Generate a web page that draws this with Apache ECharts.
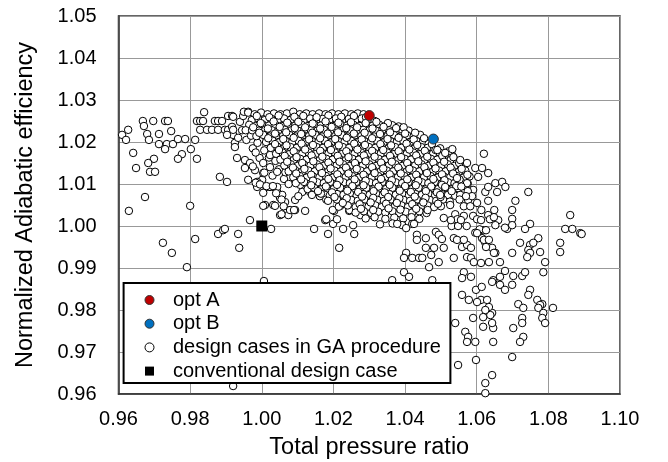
<!DOCTYPE html>
<html><head><meta charset="utf-8">
<script src="https://cdn.jsdelivr.net/npm/echarts@6/dist/echarts.min.js"></script>
<style>html,body{margin:0;padding:0;background:#fff}#c{width:668px;height:462px}</style>
</head><body><div id="c"></div>
<script>
// ---- tick labels ----
const xTickLabels = ['0.96','0.98','1.00','1.02','1.04','1.06','1.08','1.10'];
const yTickLabels = ['0.96','0.97','0.98','0.99','1.00','1.01','1.02','1.03','1.04','1.05'];

// ---- highlighted cases ----
const optA = [[1.0300, 1.0263]];
const optB = [[1.0479, 1.0207]];
const conventional = [[1.0000, 1.0000]];

// ---- design cases in GA procedure ----
const designLeft = [
[0.9610,1.0217],[0.9627,1.0229],[0.9621,1.0205],[0.9641,1.0174],[0.9649,1.0138],[0.9629,1.0036],
[0.9668,1.0250],[0.9697,1.0250],[0.9730,1.0250],[0.9738,1.0250],[0.9671,1.0238],[0.9680,1.0219],[0.9685,1.0205],[0.9713,1.0219],[0.9747,1.0226],
[0.9713,1.0195],[0.9735,1.0195],[0.9752,1.0195],[0.9766,1.0207],[0.9786,1.0207],[0.9814,1.0205],
[0.9730,1.0183],[0.9802,1.0183],[0.9777,1.0171],[0.9766,1.0160],[0.9819,1.0160],[0.9699,1.0160],[0.9683,1.0150],[0.9688,1.0129],[0.9702,1.0129],
[0.9839,1.0271],[0.9819,1.0250],[0.9828,1.0250],[0.9836,1.0250],[0.9828,1.0229],[0.9847,1.0229],[0.9861,1.0229],[0.9869,1.0250],[0.9878,1.0250],[0.9889,1.0250],[0.9906,1.0262],[0.9917,1.0262],[0.9878,1.0229],[0.9897,1.0229],[0.9906,1.0229],[0.9917,1.0236],[0.9920,1.0217],[0.9925,1.0198],[0.9903,1.0217],
[0.9883,1.0117],[0.9903,1.0105],[0.9674,1.0069],
[0.9800,1.0048],[0.9724,0.9960],[0.9749,0.9936],[0.9814,0.9969],[0.9791,0.9902],[0.9878,0.9981],[0.9892,0.9990],[0.9897,0.9993],[0.9934,0.9981],[0.9937,0.9948],[0.9920,0.9619]
];
const designNearOne = [
[0.9920,1.0260],[0.9939,1.0248],[0.9920,1.0229],[0.9934,1.0210],[0.9925,1.0188],[0.9931,1.0162],[0.9953,1.0157],[0.9967,1.0150],[0.9953,1.0138],[0.9981,1.0133],[0.9962,1.0110],[1.0001,1.0110],[0.9987,1.0093],[1.0015,1.0093],[1.0004,1.0079],[1.0032,1.0093],[1.0009,1.0050],[1.0043,1.0081],[1.0051,1.0067],[0.9948,1.0262],[0.9950,1.0272],[0.9962,1.0272],[0.9975,1.0185],[0.9988,1.0198],[0.9994,1.0162],[0.9975,1.0142],[0.9945,1.0228],[0.9957,1.0205],[0.9970,1.0215],[0.9983,1.0175],[1.0007,1.0180],[1.0020,1.0163],[1.0023,1.0140],[1.0038,1.0155],[1.0030,1.0120],[1.0048,1.0135],[1.0062,1.0112],[1.0075,1.0100],[1.0066,1.0128],
[1.0004,1.0126],[1.0004,1.0150],[1.0023,1.0169],[0.9987,1.0105],[1.0023,1.0093],[1.0043,1.0093],[1.0043,1.0129],[1.0057,1.0074],[1.0065,1.0057],[1.0032,1.0050],[1.0093,1.0062],[1.0093,1.0129],[1.0107,1.0098],[1.0127,1.0098],[1.0135,1.0081],[1.0113,1.0081],[1.0163,1.0074],[1.0149,1.0114],
[1.0004,1.0048],[1.0037,1.0048],[1.0051,1.0026],[1.0071,1.0038],[1.0074,1.0026],[1.0093,1.0038],[1.0121,1.0036],[0.9967,1.0014],[1.0026,0.9993],[1.0146,0.9993],[1.0177,1.0014],[1.0185,0.9981],[1.0199,1.0005],[1.0202,1.0036],[1.0219,1.0048],[1.0244,1.0036],[1.0227,0.9993],[1.0255,1.0002],[1.0258,0.9981],[1.0216,0.9948],[1.0275,1.0026],[1.0294,1.0026],[1.0308,1.0026],[1.0322,1.0033],[1.0006,0.9869],
[1.0040,1.0078],[1.0055,1.0063],[1.0061,1.0047],[1.0079,1.0038],[1.0090,1.0038],[1.0055,1.0028],[1.0102,1.0071],[1.0144,1.0083],[1.0162,1.0071],[1.0180,1.0063],[1.0198,1.0038],[1.0210,1.0016],[1.0180,1.0016],[1.0245,1.0038],[1.0221,1.0055],[1.0233,1.0063],
[0.9983,1.0103],[0.9995,1.0099],[1.0007,1.0127],[1.0013,1.0095],[1.0031,1.0095]
];
const designCore = [
[0.9962,1.0270],[0.9980,1.0266],[0.9998,1.0270],[1.0016,1.0266],[1.0034,1.0268],[1.0052,1.0266],[1.0070,1.0268],[1.0088,1.0272],[1.0106,1.0266],[1.0124,1.0268],[1.0142,1.0266],[1.0160,1.0268],[1.0178,1.0266],[1.0196,1.0268],[1.0214,1.0266],[1.0232,1.0268],[1.0250,1.0266],[1.0268,1.0268],[1.0284,1.0266],
[0.9972,1.0252],[0.9990,1.0256],[1.0008,1.0252],[1.0027,1.0255],[1.0045,1.0252],[1.0062,1.0256],[1.0081,1.0253],[1.0098,1.0255],[1.0117,1.0252],[1.0135,1.0256],[1.0152,1.0252],[1.0170,1.0255],[1.0189,1.0253],[1.0207,1.0256],[1.0225,1.0252],[1.0243,1.0255],[1.0261,1.0252],[1.0279,1.0256],[1.0297,1.0253],[1.0315,1.0250],
[0.9965,1.0241],[0.9983,1.0238],[1.0002,1.0242],[1.0020,1.0239],[1.0038,1.0241],[1.0056,1.0238],[1.0074,1.0242],[1.0093,1.0239],[1.0111,1.0241],[1.0129,1.0238],[1.0147,1.0242],[1.0165,1.0239],[1.0183,1.0241],[1.0202,1.0238],[1.0220,1.0242],[1.0238,1.0239],[1.0256,1.0241],[1.0274,1.0238],[1.0292,1.0242],[1.0310,1.0239],[1.0328,1.0241],[1.0346,1.0238],[1.0364,1.0240],[1.0382,1.0237],
[0.9955,1.0228],[0.9973,1.0228],[0.9992,1.0227],[1.0010,1.0229],[1.0028,1.0228],[1.0046,1.0227],[1.0064,1.0229],[1.0083,1.0228],[1.0101,1.0227],[1.0119,1.0229],[1.0137,1.0228],[1.0155,1.0227],[1.0174,1.0229],[1.0192,1.0228],[1.0210,1.0227],[1.0228,1.0229],[1.0246,1.0228],[1.0265,1.0227],[1.0283,1.0229],[1.0301,1.0228],[1.0319,1.0227],[1.0337,1.0229],[1.0355,1.0228],[1.0374,1.0227],[1.0392,1.0229],[1.0410,1.0227],
[0.9985,1.0214],[1.0004,1.0217],[1.0022,1.0213],[1.0041,1.0216],[1.0059,1.0214],[1.0077,1.0217],[1.0095,1.0213],[1.0114,1.0216],[1.0132,1.0214],[1.0150,1.0217],[1.0168,1.0213],[1.0187,1.0216],[1.0205,1.0214],[1.0223,1.0217],[1.0241,1.0213],[1.0260,1.0216],[1.0278,1.0214],[1.0296,1.0217],[1.0314,1.0213],[1.0333,1.0216],[1.0351,1.0214],[1.0369,1.0217],[1.0387,1.0213],[1.0406,1.0216],[1.0424,1.0214],[1.0442,1.0217],
[1.0012,1.0200],[1.0030,1.0203],[1.0048,1.0199],[1.0067,1.0202],[1.0085,1.0200],[1.0103,1.0203],[1.0121,1.0199],[1.0140,1.0202],[1.0158,1.0200],[1.0176,1.0203],[1.0194,1.0199],[1.0213,1.0202],[1.0231,1.0200],[1.0249,1.0203],[1.0267,1.0199],[1.0286,1.0202],[1.0304,1.0200],[1.0322,1.0203],[1.0340,1.0199],[1.0359,1.0202],[1.0377,1.0200],[1.0395,1.0203],[1.0413,1.0199],[1.0432,1.0202],[1.0450,1.0200],[1.0466,1.0196],
[1.0025,1.0186],[1.0043,1.0189],[1.0062,1.0185],[1.0080,1.0188],[1.0098,1.0186],[1.0116,1.0189],[1.0135,1.0185],[1.0153,1.0188],[1.0171,1.0186],[1.0189,1.0189],[1.0208,1.0185],[1.0226,1.0188],[1.0244,1.0186],[1.0262,1.0189],[1.0281,1.0185],[1.0299,1.0188],[1.0317,1.0186],[1.0335,1.0189],[1.0354,1.0185],[1.0372,1.0188],[1.0390,1.0186],[1.0408,1.0189],[1.0427,1.0185],[1.0445,1.0188],[1.0463,1.0186],[1.0481,1.0182],[1.0498,1.0185],
[1.0040,1.0172],[1.0058,1.0175],[1.0077,1.0171],[1.0095,1.0174],[1.0113,1.0172],[1.0131,1.0175],[1.0150,1.0171],[1.0168,1.0174],[1.0186,1.0172],[1.0204,1.0175],[1.0223,1.0171],[1.0241,1.0174],[1.0259,1.0172],[1.0277,1.0175],[1.0296,1.0171],[1.0314,1.0174],[1.0332,1.0172],[1.0350,1.0175],[1.0369,1.0171],[1.0387,1.0174],[1.0405,1.0172],[1.0423,1.0175],[1.0442,1.0171],[1.0460,1.0174],[1.0478,1.0172],[1.0496,1.0175],[1.0514,1.0171],[1.0532,1.0168],
[1.0052,1.0158],[1.0070,1.0161],[1.0089,1.0157],[1.0107,1.0160],[1.0125,1.0158],[1.0143,1.0161],[1.0162,1.0157],[1.0180,1.0160],[1.0198,1.0158],[1.0216,1.0161],[1.0235,1.0157],[1.0253,1.0160],[1.0271,1.0158],[1.0289,1.0161],[1.0308,1.0157],[1.0326,1.0160],[1.0344,1.0158],[1.0362,1.0161],[1.0381,1.0157],[1.0399,1.0160],[1.0417,1.0158],[1.0435,1.0161],[1.0454,1.0157],[1.0472,1.0160],[1.0490,1.0158],[1.0508,1.0161],[1.0527,1.0157],[1.0545,1.0155],
[1.0063,1.0144],[1.0081,1.0147],[1.0100,1.0143],[1.0118,1.0146],[1.0136,1.0144],[1.0154,1.0147],[1.0173,1.0143],[1.0191,1.0146],[1.0209,1.0144],[1.0227,1.0147],[1.0246,1.0143],[1.0264,1.0146],[1.0282,1.0144],[1.0300,1.0147],[1.0319,1.0143],[1.0337,1.0146],[1.0355,1.0144],[1.0373,1.0147],[1.0392,1.0143],[1.0410,1.0146],[1.0428,1.0144],[1.0446,1.0147],[1.0465,1.0143],[1.0483,1.0146],[1.0501,1.0144],[1.0519,1.0147],[1.0538,1.0143],[1.0556,1.0146],
[1.0075,1.0130],[1.0093,1.0133],[1.0112,1.0129],[1.0130,1.0132],[1.0148,1.0130],[1.0166,1.0133],[1.0185,1.0129],[1.0203,1.0132],[1.0221,1.0130],[1.0239,1.0133],[1.0258,1.0129],[1.0276,1.0132],[1.0294,1.0130],[1.0312,1.0133],[1.0331,1.0129],[1.0349,1.0132],[1.0367,1.0130],[1.0385,1.0133],[1.0404,1.0129],[1.0422,1.0132],[1.0440,1.0130],[1.0458,1.0133],[1.0477,1.0129],[1.0495,1.0132],[1.0513,1.0130],[1.0531,1.0133],[1.0550,1.0129],[1.0568,1.0132],
[1.0088,1.0116],[1.0106,1.0119],[1.0125,1.0115],[1.0143,1.0118],[1.0161,1.0116],[1.0179,1.0119],[1.0198,1.0115],[1.0216,1.0118],[1.0234,1.0116],[1.0252,1.0119],[1.0271,1.0115],[1.0289,1.0118],[1.0307,1.0116],[1.0325,1.0119],[1.0344,1.0115],[1.0362,1.0118],[1.0380,1.0116],[1.0398,1.0119],[1.0417,1.0115],[1.0435,1.0118],[1.0453,1.0116],[1.0471,1.0119],[1.0490,1.0115],[1.0508,1.0118],[1.0526,1.0116],[1.0544,1.0119],[1.0563,1.0115],[1.0580,1.0118],
[1.0095,1.0102],[1.0118,1.0105],[1.0137,1.0101],[1.0155,1.0104],[1.0173,1.0102],[1.0191,1.0105],[1.0210,1.0101],[1.0228,1.0104],[1.0246,1.0102],[1.0264,1.0105],[1.0283,1.0101],[1.0301,1.0104],[1.0319,1.0102],[1.0337,1.0105],[1.0356,1.0101],[1.0374,1.0104],[1.0392,1.0102],[1.0410,1.0105],[1.0429,1.0101],[1.0447,1.0104],[1.0465,1.0102],[1.0483,1.0105],[1.0502,1.0101],[1.0520,1.0104],[1.0538,1.0102],[1.0556,1.0105],[1.0575,1.0101],
[1.0128,1.0088],[1.0146,1.0091],[1.0165,1.0087],[1.0183,1.0090],[1.0201,1.0088],[1.0219,1.0091],[1.0238,1.0087],[1.0256,1.0090],[1.0274,1.0088],[1.0292,1.0091],[1.0311,1.0087],[1.0329,1.0090],[1.0347,1.0088],[1.0365,1.0091],[1.0384,1.0087],[1.0402,1.0090],[1.0420,1.0088],[1.0438,1.0091],[1.0457,1.0087],[1.0475,1.0090],[1.0493,1.0088],[1.0511,1.0091],[1.0530,1.0087],[1.0548,1.0090],
[1.0140,1.0074],[1.0165,1.0077],[1.0190,1.0073],[1.0210,1.0076],[1.0228,1.0074],[1.0246,1.0077],[1.0265,1.0073],[1.0283,1.0076],[1.0301,1.0074],[1.0319,1.0077],[1.0338,1.0073],[1.0356,1.0076],[1.0374,1.0074],[1.0392,1.0077],[1.0411,1.0073],[1.0429,1.0076],[1.0447,1.0074],[1.0465,1.0077],[1.0484,1.0073],[1.0502,1.0076],[1.0520,1.0074],[1.0540,1.0072],
[1.0185,1.0060],[1.0210,1.0063],[1.0232,1.0059],[1.0250,1.0062],[1.0268,1.0060],[1.0287,1.0063],[1.0305,1.0059],[1.0323,1.0062],[1.0341,1.0060],[1.0360,1.0063],[1.0378,1.0059],[1.0396,1.0062],[1.0414,1.0060],[1.0433,1.0063],[1.0451,1.0059],[1.0469,1.0062],[1.0487,1.0060],[1.0506,1.0063],[1.0525,1.0058],
[1.0215,1.0046],[1.0240,1.0049],[1.0262,1.0045],[1.0280,1.0048],[1.0298,1.0046],[1.0317,1.0049],[1.0335,1.0045],[1.0353,1.0048],[1.0371,1.0046],[1.0390,1.0049],[1.0408,1.0045],[1.0426,1.0048],[1.0444,1.0046],[1.0463,1.0049],[1.0481,1.0045],[1.0500,1.0047],
[1.0262,1.0032],[1.0285,1.0035],[1.0305,1.0031],[1.0325,1.0034],[1.0345,1.0032],[1.0365,1.0035],[1.0384,1.0031],[1.0402,1.0034],[1.0420,1.0032],[1.0440,1.0035],[1.0460,1.0031],
[1.0290,1.0018],[1.0315,1.0021],[1.0345,1.0017],[1.0370,1.0020],[1.0395,1.0018],[1.0418,1.0021],[1.0440,1.0017],
[1.0330,1.0004],[1.0365,1.0006],[1.0392,1.0002],[1.0420,1.0005]
];
const designCoreExtra = [
[0.9986,1.0262],[1.0021,1.0259],[1.0047,1.0263],[1.0091,1.0260],[1.0116,1.0262],[1.0153,1.0259],[1.0186,1.0263],[1.0222,1.0260],[1.0257,1.0262],[1.0291,1.0259],
[0.9997,1.0245],[1.0033,1.0249],[1.0071,1.0246],[1.0102,1.0248],[1.0142,1.0244],[1.0178,1.0249],[1.0214,1.0246],[1.0249,1.0247],[1.0290,1.0245],[1.0320,1.0248],[1.0352,1.0245],
[0.9976,1.0235],[1.0017,1.0232],[1.0050,1.0236],[1.0092,1.0233],[1.0121,1.0235],[1.0163,1.0232],[1.0195,1.0236],[1.0236,1.0233],[1.0266,1.0235],[1.0309,1.0232],[1.0340,1.0236],[1.0375,1.0233],[1.0396,1.0235],
[0.9993,1.0222],[1.0037,1.0220],[1.0068,1.0223],[1.0110,1.0219],[1.0141,1.0222],[1.0184,1.0220],[1.0213,1.0223],[1.0257,1.0220],[1.0287,1.0222],[1.0330,1.0219],[1.0358,1.0223],[1.0400,1.0220],[1.0428,1.0222],
[1.0018,1.0209],[1.0060,1.0207],[1.0089,1.0210],[1.0132,1.0206],[1.0163,1.0209],[1.0205,1.0207],[1.0237,1.0210],[1.0279,1.0206],[1.0308,1.0209],[1.0351,1.0207],[1.0382,1.0210],[1.0424,1.0206],[1.0453,1.0209],
[1.0037,1.0195],[1.0069,1.0192],[1.0111,1.0196],[1.0143,1.0193],[1.0185,1.0195],[1.0215,1.0192],[1.0258,1.0196],[1.0288,1.0193],[1.0331,1.0195],[1.0361,1.0192],[1.0404,1.0196],[1.0434,1.0193],[1.0475,1.0195],
[1.0048,1.0181],[1.0089,1.0178],[1.0121,1.0182],[1.0163,1.0179],[1.0193,1.0181],[1.0236,1.0178],[1.0267,1.0182],[1.0308,1.0179],[1.0339,1.0181],[1.0382,1.0178],[1.0412,1.0182],[1.0455,1.0179],[1.0485,1.0181],[1.0522,1.0178],
[1.0064,1.0167],[1.0097,1.0164],[1.0139,1.0168],[1.0169,1.0165],[1.0212,1.0167],[1.0242,1.0164],[1.0285,1.0168],[1.0315,1.0165],[1.0358,1.0167],[1.0389,1.0164],[1.0431,1.0168],[1.0462,1.0165],[1.0504,1.0167],[1.0535,1.0164],
[1.0071,1.0153],[1.0113,1.0150],[1.0144,1.0154],[1.0186,1.0151],[1.0217,1.0153],[1.0260,1.0150],[1.0290,1.0154],[1.0333,1.0151],[1.0363,1.0153],[1.0406,1.0150],[1.0437,1.0154],[1.0479,1.0151],[1.0509,1.0153],[1.0551,1.0150],
[1.0087,1.0139],[1.0119,1.0136],[1.0161,1.0140],[1.0192,1.0137],[1.0235,1.0139],[1.0265,1.0136],[1.0308,1.0140],[1.0339,1.0137],[1.0381,1.0139],[1.0412,1.0136],[1.0454,1.0140],[1.0485,1.0137],[1.0527,1.0139],[1.0558,1.0136],
[1.0096,1.0125],[1.0138,1.0122],[1.0168,1.0126],[1.0211,1.0123],[1.0242,1.0125],[1.0284,1.0122],[1.0315,1.0126],[1.0357,1.0123],[1.0388,1.0125],[1.0431,1.0122],[1.0461,1.0126],[1.0503,1.0123],[1.0534,1.0125],[1.0574,1.0122],
[1.0110,1.0111],[1.0143,1.0108],[1.0186,1.0112],[1.0217,1.0109],[1.0259,1.0111],[1.0290,1.0108],[1.0333,1.0112],[1.0363,1.0109],[1.0406,1.0111],[1.0437,1.0108],[1.0479,1.0112],[1.0510,1.0109],[1.0552,1.0111],
[1.0138,1.0097],[1.0179,1.0094],[1.0210,1.0098],[1.0253,1.0095],[1.0284,1.0097],[1.0326,1.0094],[1.0357,1.0098],[1.0400,1.0095],[1.0430,1.0097],[1.0473,1.0094],[1.0503,1.0098],[1.0543,1.0095],
[1.0157,1.0083],[1.0196,1.0080],[1.0239,1.0084],[1.0269,1.0081],[1.0312,1.0083],[1.0343,1.0080],[1.0385,1.0084],[1.0416,1.0081],[1.0458,1.0083],[1.0489,1.0080],[1.0530,1.0083],
[1.0203,1.0069],[1.0237,1.0066],[1.0280,1.0070],[1.0311,1.0067],[1.0353,1.0069],[1.0384,1.0066],[1.0427,1.0070],[1.0457,1.0067],[1.0499,1.0069],
[1.0226,1.0055],[1.0273,1.0052],[1.0304,1.0056],[1.0347,1.0053],[1.0377,1.0055],[1.0420,1.0052],[1.0451,1.0056],[1.0492,1.0053],
[1.0277,1.0041],[1.0311,1.0038],[1.0354,1.0042],[1.0387,1.0039],[1.0431,1.0041],[1.0463,1.0038]
];
const designRightUpper = [
[1.0490,1.0181],[1.0512,1.0174],[1.0532,1.0183],[1.0554,1.0157],[1.0573,1.0150],[1.0596,1.0138],[1.0545,1.0114],[1.0573,1.0102],[1.0604,1.0117],[1.0590,1.0086],[1.0512,1.0093],[1.0498,1.0074],[1.0554,1.0074],[1.0576,1.0062],[1.0601,1.0055],[1.0526,1.0050],
[1.0620,1.0172],[1.0632,1.0126],[1.0615,1.0138],[1.0652,1.0102],[1.0671,1.0105],[1.0680,1.0093],[1.0657,1.0081],[1.0624,1.0081],[1.0632,1.0093],[1.0744,1.0081],[1.0708,1.0060],[1.0632,1.0060],[1.0699,1.0038],[1.0632,1.0026],[1.0660,1.0014],[1.0699,1.0017],[1.0652,1.0002],[1.0685,0.9993],[1.0699,1.0002],[1.0749,1.0005],[1.0735,0.9993],[1.0618,0.9990],[1.0615,0.9971],[1.0624,0.9960],[1.0643,0.9948],[1.0652,0.9936],[1.0679,0.9996],
[1.0557,1.0094],[1.0575,1.0083],[1.0587,1.0071],[1.0570,1.0071],[1.0552,1.0063],[1.0564,1.0047],[1.0582,1.0047],[1.0540,1.0028],[1.0546,1.0016],[1.0564,1.0024],[1.0530,1.0000],[1.0548,1.0000],[1.0572,1.0000],[1.0590,1.0024],[1.0596,0.9984],[1.0608,0.9992],[1.0613,1.0038],[1.0601,1.0016],[1.0637,1.0016],[1.0649,1.0038]
];
const designRightLower = [
[1.0861,1.0026],[1.0847,0.9993],[1.0867,0.9993],[1.0889,0.9983],[1.0893,0.9981],[1.0772,0.9971],[1.0721,0.9960],[1.0749,0.9955],[1.0758,0.9960],[1.0744,0.9943],[1.0749,0.9936],[1.0741,0.9926],[1.0777,0.9938],[1.0791,0.9914],[1.0699,0.9936],[1.0665,0.9914],[1.0833,0.9960],[1.0833,0.9938],[1.0679,0.9893],[1.0665,0.9879],[1.0702,0.9881],[1.0727,0.9881],[1.0735,0.9890],[1.0646,0.9871],[1.0665,0.9860],[1.0699,0.9860],[1.0679,0.9848],[1.0786,0.9890],[1.0749,0.9848],[1.0744,0.9836],[1.0769,0.9824],[1.0783,0.9814],[1.0716,0.9814],[1.0730,0.9805],[1.0813,0.9805],[1.0777,0.9812],[1.0772,0.9805],[1.0786,0.9793],[1.0783,0.9781],[1.0791,0.9769],[1.0727,0.9781],[1.0727,0.9769],[1.0702,0.9757],[1.0730,0.9736],[1.0721,0.9724],[1.0643,0.9793],[1.0646,0.9757],[1.0646,0.9724],[1.0699,0.9688],[1.0643,0.9645],
[1.0378,1.0005],[1.0403,0.9995],[1.0425,1.0005],[1.0433,0.9979],[1.0458,0.9971],[1.0433,0.9967],[1.0486,0.9986],[1.0494,0.9979],[1.0503,0.9969],[1.0508,1.0019],[1.0528,1.0014],[1.0556,1.0014],[1.0536,0.9971],[1.0545,0.9967],[1.0458,0.9948],[1.0481,0.9948],[1.0508,0.9948],[1.0559,0.9950],[1.0573,0.9955],[1.0584,0.9948],[1.0564,0.9967],[1.0612,1.0014],[1.0648,1.0021],[1.0601,0.9983],[1.0626,0.9990],[1.0620,0.9967],[1.0634,0.9967],[1.0626,0.9950],[1.0648,0.9936],[1.0403,0.9936],[1.0397,0.9924],[1.0420,0.9924],[1.0439,0.9924],[1.0448,0.9924],[1.0473,0.9931],[1.0494,0.9914],[1.0467,0.9902],[1.0536,0.9924],[1.0573,0.9926],[1.0584,0.9924],[1.0592,0.9914],[1.0612,0.9912],[1.0634,0.9914],[1.0397,0.9890],[1.0411,0.9879],[1.0364,0.9871],[1.0476,0.9871],[1.0564,0.9890],[1.0559,0.9876],[1.0584,0.9879],[1.0598,0.9848],[1.0614,0.9855],[1.0559,0.9836],[1.0578,0.9824],[1.0612,0.9824],[1.0629,0.9824],[1.0634,0.9807],[1.0643,0.9867],
[1.0540,0.9769],[1.0568,0.9748],[1.0576,0.9736],[1.0573,0.9724],[1.0596,0.9724],[1.0548,0.9669],[1.0598,0.9681],[1.0590,0.9781],[1.0618,0.9783],[1.0638,0.9788],[1.0624,0.9800],[1.0601,0.9819],[1.0618,0.9760],[1.0643,0.9769],[1.0624,0.9626],[1.0624,0.9602]
];
const designCases = [].concat(designLeft, designNearOne, designCore, designCoreExtra, designRightUpper, designRightLower);

const FONT = 'Liberation Sans, Arial, sans-serif';
const chart = echarts.init(document.getElementById('c'), null, {renderer: 'canvas'});
const xIdx = v => xTickLabels[Math.round((v - 0.96) / 0.02)];
const yIdx = v => yTickLabels[Math.round((v - 0.96) / 0.01)];

chart.setOption({
  animation: false,
  backgroundColor: '#fff',
  grid: {left: 118.5, right: 48, top: 16, bottom: 68, show: true, borderColor: '#333', borderWidth: 1.5, outerBoundsMode: 'none', containLabel: false},
  xAxis: {
    type: 'value', min: 0.96, max: 1.10, interval: 0.02,
    axisLine: {show: true, lineStyle: {color: '#333', width: 1.5}},
    axisTick: {show: false},
    splitLine: {show: true, lineStyle: {color: '#999', width: 1}},
    axisLabel: {fontFamily: FONT, fontSize: 20, color: '#000', margin: 15, formatter: xIdx},
    name: 'Total pressure ratio', nameLocation: 'middle', nameGap: 42,
    nameTextStyle: {fontFamily: FONT, fontSize: 23.5, color: '#000'}
  },
  yAxis: {
    type: 'value', min: 0.96, max: 1.05, interval: 0.01,
    axisLine: {show: true, lineStyle: {color: '#333', width: 1.5}},
    axisTick: {show: false},
    splitLine: {show: true, lineStyle: {color: '#999', width: 1}},
    axisLabel: {fontFamily: FONT, fontSize: 20, color: '#000', margin: 22, formatter: yIdx},
    name: 'Normalized Adiabatic efficiency', nameLocation: 'middle', nameGap: 81,
    nameTextStyle: {fontFamily: FONT, fontSize: 23.5, color: '#000'}
  },
  graphic: [{
    type: 'rect', z: 50, silent: true,
    shape: {x: 123.6, y: 283, width: 326.8, height: 100},
    style: {fill: '#fff', stroke: '#000', lineWidth: 2}
  }],
  legend: {
    orient: 'vertical', left: 144.5, top: 290, z: 60, padding: 0,
    itemWidth: 9, itemHeight: 9, itemGap: 3.7, selectedMode: false,
    data: ['opt A', 'opt B', 'design cases in GA procedure', 'conventional design case'],
    itemStyle: {borderWidth: 1},
    textStyle: {fontFamily: FONT, fontSize: 20, color: '#000', lineHeight: 20, padding: [0, 0, 0, 14]}
  },
  series: [
    {name: 'design cases in GA procedure', type: 'scatter', data: designCases, symbol: 'circle', symbolSize: 7.5,
     itemStyle: {color: '#fff', borderColor: '#000', borderWidth: 1, opacity: 1}, emphasis: {disabled: true}, z: 2},
    {name: 'opt A', type: 'scatter', data: optA, symbol: 'circle', symbolSize: 10,
     itemStyle: {color: '#C00000', borderColor: '#333', borderWidth: 1, opacity: 1}, emphasis: {disabled: true}, z: 3},
    {name: 'opt B', type: 'scatter', data: optB, symbol: 'circle', symbolSize: 10,
     itemStyle: {color: '#0070C0', borderColor: '#333', borderWidth: 1, opacity: 1}, emphasis: {disabled: true}, z: 3},
    {name: 'conventional design case', type: 'scatter', data: conventional, symbol: 'rect', symbolSize: 11,
     itemStyle: {color: '#000', opacity: 1}, emphasis: {disabled: true}, z: 3}
  ]
});
</script>
</body></html>
